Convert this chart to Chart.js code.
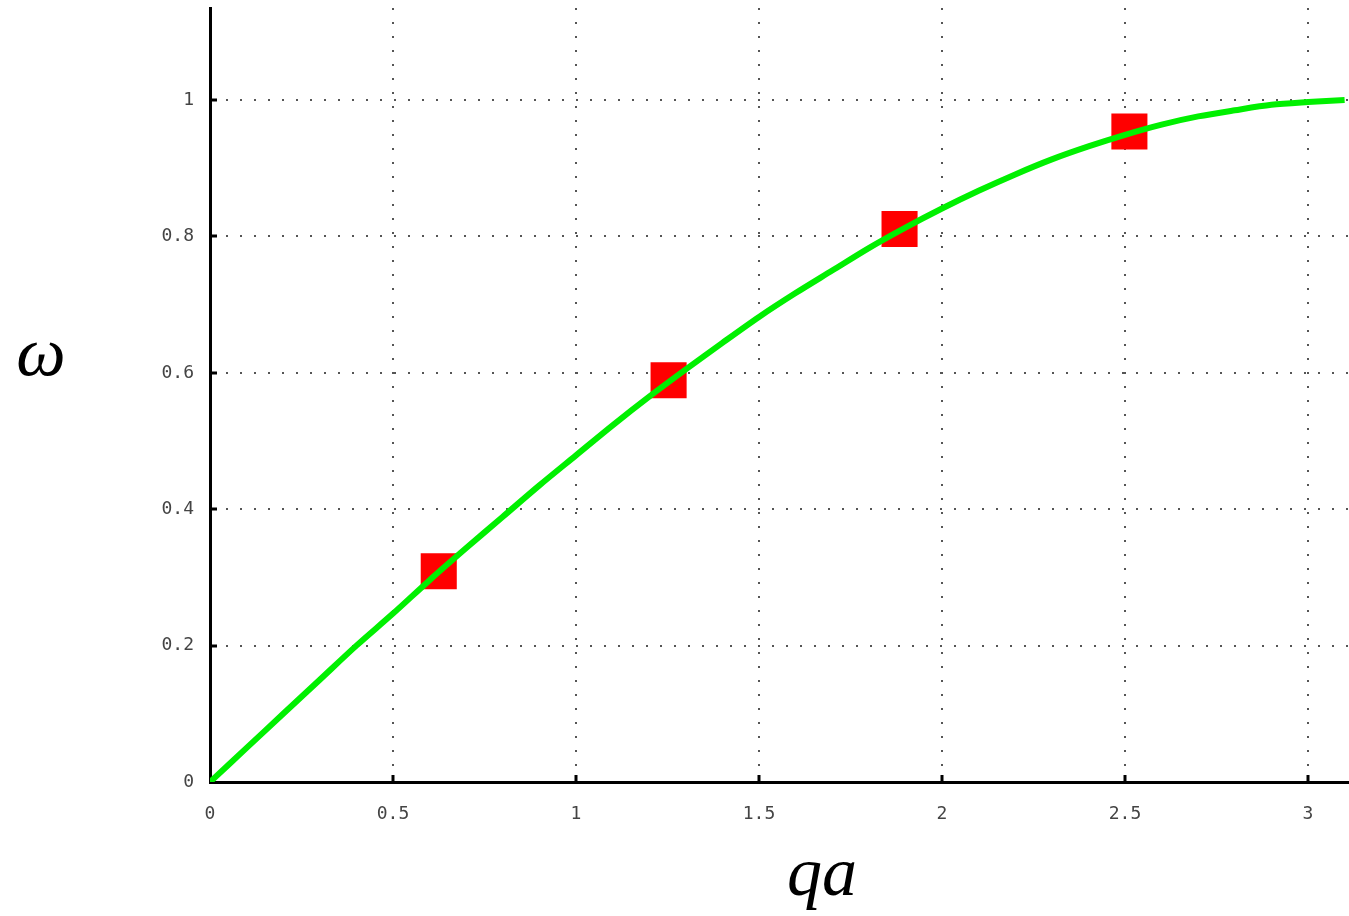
<!DOCTYPE html>
<html>
<head>
<meta charset="utf-8">
<script src="https://cdn.jsdelivr.net/npm/chart.js@4/dist/chart.umd.min.js"></script>
<style>
  html, body { margin: 0; padding: 0; background: #fff; }
  #wrap { width: 1349px; height: 916px; position: relative; }
</style>
</head>
<body>
<div id="wrap"><canvas id="plot" width="1349" height="916"></canvas></div>
<script>
// dispersion curve
const curveX = [0, 0.1, 0.2, 0.3, 0.4, 0.5, 0.6, 0.7, 0.8, 0.9, 1.0, 1.1, 1.2, 1.3, 1.4, 1.5,
                1.6, 1.7, 1.8, 1.9, 2.0, 2.1, 2.2, 2.3, 2.4, 2.5, 2.6, 2.7, 2.8, 2.9, 3.0, 3.1];
const curveY = [0, 0.05, 0.1, 0.15, 0.2, 0.247, 0.296, 0.343, 0.389, 0.435, 0.479, 0.523, 0.565, 0.605, 0.644, 0.682,
                0.717, 0.75, 0.783, 0.813, 0.841, 0.867, 0.891, 0.913, 0.932, 0.949, 0.964, 0.976, 0.985, 0.993, 0.997, 1.0];
// red squares
const markX = [0.625, 1.253, 1.884, 2.512];
const markY = [0.309, 0.589, 0.811, 0.954];

const xTicks = [0, 0.5, 1, 1.5, 2, 2.5, 3];
const yTicks = [0, 0.2, 0.4, 0.6, 0.8, 1];
const xLabel = "qa";
const yLabel = "ω";

const toPts = (xs, ys) => xs.map((x, i) => ({ x: x, y: ys[i] }));

// axis names + little inward tick marks
const extras = {
  id: "extras",
  afterDraw(chart) {
    const ctx = chart.ctx;
    const xs = chart.scales.x, ys = chart.scales.y;
    const area = chart.chartArea;
    ctx.save();
    ctx.strokeStyle = "#000";
    ctx.lineWidth = 3;
    xTicks.slice(1).forEach(v => {
      const px = Math.round(xs.getPixelForValue(v));
      ctx.beginPath(); ctx.moveTo(px, area.bottom); ctx.lineTo(px, area.bottom - 7); ctx.stroke();
    });
    yTicks.slice(1).forEach(v => {
      const py = Math.round(ys.getPixelForValue(v));
      ctx.beginPath(); ctx.moveTo(area.left, py); ctx.lineTo(area.left + 7, py); ctx.stroke();
    });
    ctx.fillStyle = "#000";
    ctx.font = "italic 70px 'Liberation Serif', 'DejaVu Serif', serif";
    ctx.textAlign = "center";
    ctx.textBaseline = "alphabetic";
    ctx.fillText(yLabel, 41, 375);
    ctx.fillText(xLabel, 822, 895);
    ctx.restore();
  }
};

const tickFont = { family: "'DejaVu Sans Mono', monospace", size: 18 };
const gridStyle = {
  color: "#555",
  lineWidth: 2,
  drawTicks: false
};
const fmt = v => String(v);

new Chart(document.getElementById("plot"), {
  type: "scatter",
  data: {
    datasets: [
      {
        data: toPts(curveX, curveY),
        showLine: true,
        borderColor: "#00f000",
        borderWidth: 6,
        pointRadius: 0,
        tension: 0.3,
        order: 0
      },
      {
        data: toPts(markX, markY),
        showLine: false,
        pointStyle: "rect",
        pointRadius: 25.5,
        pointBackgroundColor: "#ff0000",
        pointBorderWidth: 0,
        order: 1
      }
    ]
  },
  plugins: [extras],
  options: {
    responsive: false,
    animation: false,
    layout: { autoPadding: false, padding: { left: 0, top: 8, right: 0, bottom: 0 } },
    plugins: { legend: { display: false }, tooltip: { enabled: false } },
    scales: {
      x: {
        type: "linear",
        min: 0,
        max: 3.112,
        afterBuildTicks: s => { s.ticks = xTicks.map(v => ({ value: v })); },
        afterFit: s => { s.height = 134; s.paddingLeft = 0; s.paddingRight = 0; },
        grid: gridStyle,
        border: { display: true, color: "#000", width: 3, dash: [2, 12] },
        ticks: { font: tickFont, color: "#444", padding: 22, maxRotation: 0, callback: fmt }
      },
      y: {
        type: "linear",
        min: 0,
        max: 1.135,
        afterBuildTicks: s => { s.ticks = yTicks.map(v => ({ value: v })); },
        afterFit: s => { s.width = 210; s.paddingTop = 0; s.paddingBottom = 0; },
        grid: gridStyle,
        border: { display: true, color: "#000", width: 3, dash: [2, 12] },
        ticks: { font: tickFont, color: "#444", padding: 16, callback: fmt }
      }
    }
  }
});
</script>
</body>
</html>
